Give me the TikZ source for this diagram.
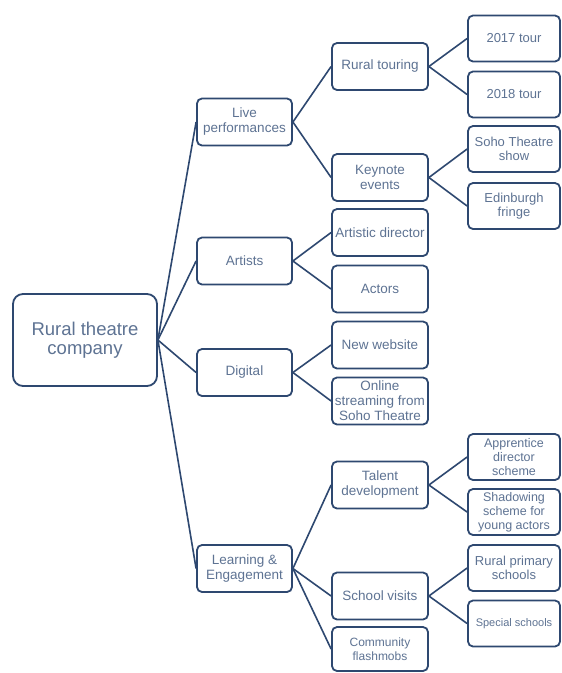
\documentclass[tikz,border=0pt]{standalone}
\usepackage{fontspec}
\setmainfont{Liberation Sans}
\definecolor{bordc}{HTML}{2E4870}
\definecolor{textc}{HTML}{5E7393}
\tikzset{
  box/.style={draw=bordc, line width=1.8pt, rounded corners=5pt, fill=white,
    text=textc, align=center, inner sep=1pt, font=\fontsize{13.5}{15}\selectfont},
  rootbox/.style={box, rounded corners=10pt, minimum width=144pt, minimum height=92pt,
    font=\fontsize{18.5}{19}\selectfont},
  lone/.style={box, minimum width=95pt, minimum height=47pt},
  ltwo/.style={box, minimum width=96pt, minimum height=47pt},
  lthree/.style={box, minimum width=92pt, minimum height=46pt, font=\fontsize{13}{14.5}\selectfont},
  conn/.style={draw=bordc, line width=1.6pt},
}
\begin{document}
\begin{tikzpicture}[x=1pt,y=-1pt]
\path[fill=white] (0,0) rectangle (562,673);
\useasboundingbox (0,0) rectangle (562,673);
% root
\node[rootbox] (root) at (85,340) {Rural theatre\\company};
% level 1
\node[lone] (live) at (244.5,122) {Live\\performances};
\node[lone] (artists) at (244.5,261) {Artists};
\node[lone] (digital) at (244.5,372.5) {Digital};
\node[lone] (learn) at (244.5,568.5) {Learning \&\\Engagement};
% level 2
\node[ltwo] (rural) at (380,66.5) {Rural touring};
\node[ltwo] (keynote) at (380,177.5) {Keynote\\events};
\node[ltwo] (artdir) at (380,232.5) {Artistic director};
\node[ltwo] (actors) at (380,289) {Actors};
\node[ltwo] (web) at (380,345) {New website};
\node[ltwo] (online) at (380,401) {Online\\streaming from\\Soho Theatre};
\node[ltwo] (talent) at (380,485) {Talent\\development};
\node[ltwo] (school) at (380,596) {School visits};
\node[ltwo, minimum height=44pt, font=\fontsize{12}{13.5}\selectfont] (comm) at (380,649) {Community\\flashmobs};
% level 3
\node[lthree] (t17) at (514,38.5) {2017 tour};
\node[lthree] (t18) at (514,94.5) {2018 tour};
\node[lthree] (soho) at (514,149) {Soho Theatre\\show};
\node[lthree] (edin) at (514,206) {Edinburgh\\fringe};
\node[lthree, font=\fontsize{12.5}{14}\selectfont] (appr) at (514,457) {Apprentice\\director\\scheme};
\node[lthree, font=\fontsize{12.5}{14}\selectfont] (shad) at (514,512) {Shadowing\\scheme for\\young actors};
\node[lthree] (prim) at (514,568) {Rural primary\\schools};
\node[lthree, font=\fontsize{11}{13}\selectfont] (spec) at (514,623.5) {Special schools};
% connectors
\foreach \c in {live,artists,digital,learn} \draw[conn] (root.east) -- (\c.west);
\foreach \c in {rural,keynote} \draw[conn] (live.east) -- (\c.west);
\foreach \c in {artdir,actors} \draw[conn] (artists.east) -- (\c.west);
\foreach \c in {web,online} \draw[conn] (digital.east) -- (\c.west);
\foreach \c in {talent,school,comm} \draw[conn] (learn.east) -- (\c.west);
\foreach \c in {t17,t18} \draw[conn] (rural.east) -- (\c.west);
\foreach \c in {soho,edin} \draw[conn] (keynote.east) -- (\c.west);
\foreach \c in {appr,shad} \draw[conn] (talent.east) -- (\c.west);
\foreach \c in {prim,spec} \draw[conn] (school.east) -- (\c.west);
\end{tikzpicture}
\end{document}
